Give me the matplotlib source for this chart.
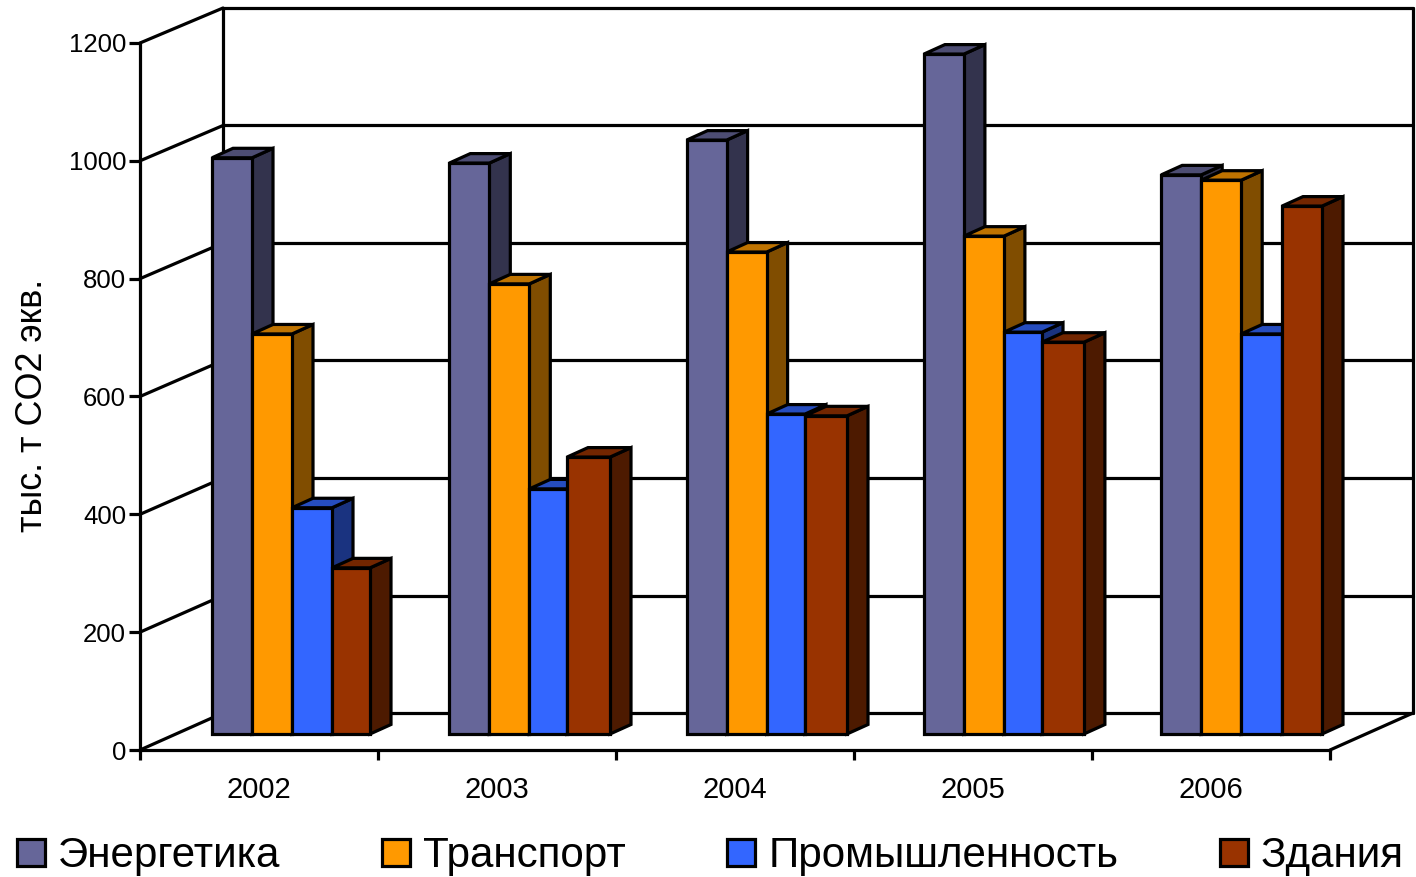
#!/usr/bin/env python3
"""Greenhouse gas emissions by sector, 2002-2006, as a 3D-style bar chart."""

import matplotlib
matplotlib.use('Agg')
import matplotlib.pyplot as plt
import numpy as np
from matplotlib.patches import Patch, Polygon

plt.rcParams['font.family'] = ['Liberation Sans', 'DejaVu Sans']

years = ['2002', '2003', '2004', '2005', '2006']
sectors = ['Энергетика', 'Транспорт', 'Промышленность', 'Здания']
energy = [978, 969, 1008, 1154, 949]
transport = [679, 764, 818, 845, 940]
industry = [384, 416, 543, 682, 679]
buildings = [282, 470, 540, 665, 896]
y_ticks = [0, 200, 400, 600, 800, 1000, 1200]
y_label = 'тыс. т CO2 экв.'

front_colors = ['#666699', '#FF9900', '#3366FF', '#993300']

# figure layout, in pixels at dpi 100
FIG_W, FIG_H = 1416, 877
AX_LEFT, AX_RIGHT, AX_TOP, AX_BOTTOM = 140, 1330, 43, 750
PX_X = 5 / (AX_RIGHT - AX_LEFT)
PX_Y = 1200 / (AX_BOTTOM - AX_TOP)

# depth of the chart box and of each bar, in data units
WALL_DX, WALL_DY = 83 * PX_X, 37 * PX_Y
WALL_SCALE = 705 / 707  # the back wall is a touch shorter than the front axis
BAR_DX, BAR_DY = 21 * PX_X, 9.5 * PX_Y
BAR_BASE = 16 * PX_Y
BAR_START = 72 * PX_X
BAR_W = 40 * PX_X
GROUP_STEP = 237.3 * PX_X
# the last bar does not sit exactly on its regular slot in most years
LAST_BAR_SHIFT = np.array([0, -2.3, -1.6, -1.9, 0.8]) * PX_X
LAST_BAR_TRIM = np.array([-2, 0.7, 0.4, 0, 0.8]) * PX_X
LINE_W = 2.3


def shade(color, factor):
    """Darken a colour for the side and top faces of a bar"""
    rgb = np.array(matplotlib.colors.to_rgb(color))
    return tuple(rgb * factor)


def draw_bar(ax, left, right, value, color, z):
    """Draw one bar: side face, top face and then the front"""
    top = BAR_BASE + value
    side = [(right, BAR_BASE), (right + BAR_DX, BAR_BASE + BAR_DY),
            (right + BAR_DX, top + BAR_DY), (right, top)]
    cap = [(left, top), (left + BAR_DX, top + BAR_DY),
           (right + BAR_DX, top + BAR_DY), (right, top)]
    style = dict(edgecolor='black', linewidth=LINE_W, clip_on=False, zorder=z)
    ax.add_patch(Polygon(side, closed=True, facecolor=shade(color, 0.5), **style))
    ax.add_patch(Polygon(cap, closed=True, facecolor=shade(color, 0.75), **style))
    ax.bar(left, value, width=right - left, bottom=BAR_BASE, align='edge',
           color=color, edgecolor='black', linewidth=LINE_W, clip_on=False, zorder=z)


def draw_walls(ax):
    """Draw the back wall, the side wall lines and the floor"""
    style = dict(color='black', linewidth=LINE_W, clip_on=False, zorder=1,
                 solid_capstyle='round')
    back_right = 5 + WALL_DX
    for tick in y_ticks:
        back_y = tick * WALL_SCALE + WALL_DY
        ax.plot([0, WALL_DX], [tick, back_y], **style)
        ax.plot([WALL_DX, back_right], [back_y, back_y], **style)
    top = y_ticks[-1] * WALL_SCALE + WALL_DY
    ax.plot([WALL_DX, WALL_DX], [WALL_DY, top], **style)
    ax.plot([back_right, back_right], [WALL_DY, top], **style)
    ax.plot([5, back_right], [0, WALL_DY], **style)


def main():
    fig = plt.figure(figsize=(FIG_W / 100, FIG_H / 100), dpi=100)
    ax = fig.add_axes([AX_LEFT / FIG_W, 1 - AX_BOTTOM / FIG_H,
                       (AX_RIGHT - AX_LEFT) / FIG_W, (AX_BOTTOM - AX_TOP) / FIG_H])
    ax.set_xlim(0, 5)
    ax.set_ylim(0, 1200)
    ax.patch.set_visible(False)

    draw_walls(ax)

    series = [energy, transport, industry, buildings]
    z = 3
    for i in range(len(years)):
        start = i * GROUP_STEP + BAR_START
        for s, values in enumerate(series):
            left = start + s * BAR_W
            right = left + BAR_W
            if s == 2:
                right += LAST_BAR_SHIFT[i]
            if s == 3:
                left += LAST_BAR_SHIFT[i]
                right += LAST_BAR_TRIM[i]
            draw_bar(ax, left, right, values[i], front_colors[s], z)
            z += 1

    # axes
    for name in ['top', 'right']:
        ax.spines[name].set_visible(False)
    for name in ['left', 'bottom']:
        ax.spines[name].set_linewidth(LINE_W)
    ax.set_yticks(y_ticks)
    ax.set_xticks(np.arange(6))
    ax.set_xticklabels([])
    ax.set_xticks(np.arange(5) + 0.5, labels=years, minor=True)
    ax.tick_params(axis='y', length=8, width=LINE_W, labelsize=18.5, pad=2)
    ax.tick_params(axis='x', which='major', length=7.5, width=LINE_W)
    ax.tick_params(axis='x', which='minor', length=0, labelsize=21, pad=18.5)
    ax.set_ylabel(y_label, fontsize=25.8)
    ax.yaxis.set_label_coords(-90 / (AX_RIGHT - AX_LEFT), 0.487)

    handles = [Patch(facecolor=c, edgecolor='black', linewidth=LINE_W) for c in front_colors]
    fig.legend(handles, sectors, loc='lower left',
               bbox_to_anchor=(17 / FIG_W, 1 - 876 / FIG_H), ncols=4, frameon=False,
               fontsize=30.3, borderpad=0, borderaxespad=0, handlelength=0.66,
               handleheight=0.6, handletextpad=0.31, columnspacing=2.42)

    fig.savefig('out.png', dpi=100)


if __name__ == "__main__":
    main()
